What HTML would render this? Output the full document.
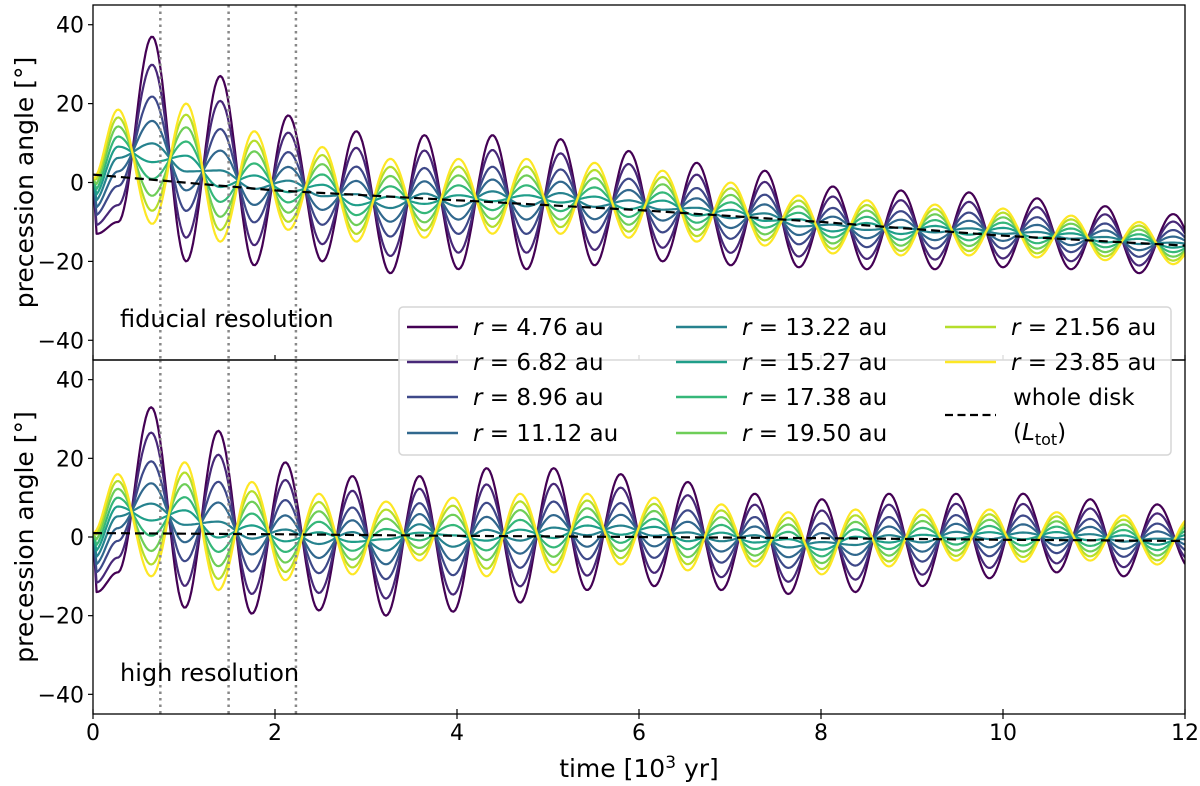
<!DOCTYPE html>
<html><head><meta charset="utf-8"><style>
html,body{margin:0;padding:0;background:#fff;}
svg{display:block;font-family:"DejaVu Sans","Liberation Sans",sans-serif;}
</style></head><body>
<svg id="chart" width="1200" height="786" viewBox="0 0 1200 786" xmlns="http://www.w3.org/2000/svg"></svg>
<script>
// ---- data ----
const radii = ["4.76","6.82","8.96","11.12","13.22","15.27","17.38","19.50","21.56","23.85"];
const colors = ["#440154","#482878","#3e4989","#31688e","#26828e","#1f9e89","#35b779","#6ece58","#b5de2b","#fde725"];
const mixWeights = [0,0.15,0.32,0.45,0.57,0.67,0.76,0.85,0.93,1];
const xTicks = [0,2,4,6,8,10,12];
const yTicks = [40,20,0,-20,-40];
const trendT = [0,2,4,6,8,10,12];
const topTrend = [2,-2,-4.5,-7,-10,-13.5,-16];
const botTrend = [1,0.7,0.3,0,-0.3,-0.7,-1];
const topPurplePeaks = [37,27,17,13,12,12,11,8,5,3,-1,-2,-2.5,-4,-6,-8];
const topPurpleTroughs = [-10,-20,-21,-20,-23,-22,-22,-21,-20,-21,-21.5,-22,-22,-21.5,-22,-23,-23];
const topYellowPeaks = [18.5,20,13,9,6,6,6,5,3,0,-3.3,-4.5,-5.6,-6.6,-8.4,-10,-11];
const topYellowTroughs = [-10.5,-15,-12,-15,-14,-13,-13,-14,-15,-16,-18,-18.5,-18.5,-19,-19.7,-20.7];
const botPurplePeaks = [33,27,19,15.5,15.5,17.5,17.5,16,14,11,9.6,11,11,11,9.6,8.3];
const botPurpleTroughs = [-9,-18,-19.5,-18.7,-20,-19,-16.7,-13.5,-12.5,-13.5,-14.5,-14,-12.5,-10.5,-9,-10,-8];
const botYellowPeaks = [16,19,14,11,9,10,11,11,10,8.3,6.3,7,7,7,6.3,5.5,5];
const botYellowTroughs = [-10,-13.5,-11,-9.5,-6,-10,-9,-7,-8.5,-7.5,-9.5,-7.5,-6,-6.3,-6,-7];
const topPhase = [0.65,0.748];
const botPhase = [0.64,0.737];
const guideTimes = [0.74,1.49,2.23];

// ---- layout ----
const NS="http://www.w3.org/2000/svg";
const svg=document.getElementById('chart');
const X0=93,X1=1185;
const panels=[{top:5,bot:360,name:'top'},{top:360,bot:714,name:'bottom'}];
function xs(t){return X0+(t/12)*(X1-X0);}
function ysF(p){return v=>p.top+(45-v)/90*(p.bot-p.top);}
function el(tag,attrs,parent){const e=document.createElementNS(NS,tag);for(const k in attrs)e.setAttribute(k,attrs[k]);(parent||svg).appendChild(e);return e;}

// values A at t0+P*n, values B at t0+P*(n-0.5)
function buildExtrema(t0,P,A,B,startVal){
  const pts=[[0,startVal]];
  const n=Math.max(A.length,B.length);
  for(let i=0;i<n;i++){
    if(i<B.length)pts.push([t0+P*(i-0.5),B[i]]);
    if(i<A.length)pts.push([t0+P*i,A[i]]);
  }
  return pts.filter(p=>p[0]>=0).sort((a,b)=>a[0]-b[0]);
}
function evalExt(pts,t){
  if(t<=pts[0][0])return pts[0][1];
  for(let i=1;i<pts.length;i++){
    if(t<=pts[i][0]){const a=pts[i-1],b=pts[i];const u=(t-a[0])/(b[0]-a[0]);const s=(1-Math.cos(Math.PI*u))/2;return a[1]+(b[1]-a[1])*s;}
  }
  return pts[pts.length-1][1];
}
function evalTrend(arr,t){for(let i=1;i<trendT.length;i++){if(t<=trendT[i]){const u=(t-trendT[i-1])/(trendT[i]-trendT[i-1]);return arr[i-1]+(arr[i]-arr[i-1])*u;}}return arr[arr.length-1];}

function drawPanel(p,idx){
  const ys=ysF(p);
  const g=el('g',{});
  
  
  const clipId='clip'+idx;
  const cp=el('clipPath',{id:clipId},g);el('rect',{x:X0,y:p.top,width:X1-X0,height:p.bot-p.top},cp);
  const data=idx===0?{ph:topPhase,pp:topPurplePeaks,pt:topPurpleTroughs,yp:topYellowPeaks,yt:topYellowTroughs,tr:topTrend,ps:1}:
                     {ph:botPhase,pp:botPurplePeaks,pt:botPurpleTroughs,yp:botYellowPeaks,yt:botYellowTroughs,tr:botTrend,ps:1};
  const purple=buildExtrema(data.ph[0],data.ph[1],data.pp,data.pt,data.ps);
  purple.splice(1,0,[0.04,idx===0?-13:-14]);
  const yellow=buildExtrema(data.ph[0],data.ph[1],data.yt,data.yp,data.ps);
  const lg=el('g',{'clip-path':`url(#${clipId})`},g);
  for(let k=0;k<radii.length;k++){
    const f=mixWeights[k];let d='';
    for(let t=0;t<=12.001;t+=0.02){const v=(1-f)*evalExt(purple,t)+f*evalExt(yellow,t);d+=(t===0?'M':'L')+xs(t).toFixed(1)+','+ys(v).toFixed(1);}
    const pth=el('path',{d,fill:'none',stroke:colors[k],'stroke-width':2.2,'stroke-linejoin':'round'},lg);
    
    
  }
  let d='';
  for(let t=0;t<=12.001;t+=0.1){d+=(t===0?'M':'L')+xs(t).toFixed(1)+','+ys(evalTrend(data.tr,t)).toFixed(1);}
  const tl=el('path',{d,fill:'none',stroke:'#000','stroke-width':2.2,'stroke-dasharray':'9,5'},lg);
  
  
  guideTimes.forEach(t=>{const l=el('line',{x1:xs(t),x2:xs(t),y1:p.top,y2:p.bot,stroke:'#888','stroke-width':2.5,'stroke-dasharray':'2.5,4'},g);
    
    });
  const fr=el('rect',{x:X0,y:p.top,width:X1-X0,height:p.bot-p.top,fill:'none',stroke:'#000','stroke-width':1.3},g);
  
  
  yTicks.forEach(v=>{el('line',{x1:X0-5,x2:X0,y1:ys(v),y2:ys(v),stroke:'#000','stroke-width':1.2},g);
    const tx=el('text',{x:X0-9,y:ys(v)+8,'text-anchor':'end','font-size':22,fill:'#000'},g);tx.textContent=v<0?'\u2212'+(-v):String(v);
    
    });
  xTicks.forEach(t=>{el('line',{x1:xs(t),x2:xs(t),y1:p.bot,y2:p.bot-5,stroke:'#000','stroke-width':1.2},g);});
  const yl=el('text',{transform:`translate(33,${(p.top+p.bot)/2}) rotate(-90)`,'text-anchor':'middle','font-size':25,fill:'#000'},g);
  yl.textContent='precession angle [°]';
  
  
  const lab=el('text',{x:120,y:idx===0?327:681,'font-size':24,fill:'#000'},g);
  lab.textContent=idx===0?'fiducial resolution':'high resolution';
  
  
}
panels.forEach(drawPanel);
xTicks.forEach(t=>{el('line',{x1:xs(t),x2:xs(t),y1:714,y2:719,stroke:'#000','stroke-width':1.2});
  const tx=el('text',{x:xs(t),y:740,'text-anchor':'middle','font-size':22,fill:'#000'});tx.textContent=String(t);
  
  });
const xl=el('text',{x:639,y:777,'text-anchor':'middle','font-size':25,fill:'#000'});
xl.innerHTML='time [10<tspan dy="-9" font-size="17">3</tspan><tspan dy="9"> yr]</tspan>';



// legend
const lgd=el('g',{});


el('rect',{x:399,y:307,width:772,height:148,rx:4,fill:'rgba(255,255,255,0.85)',stroke:'#d6d6d6','stroke-width':1.5},lgd);
const colX=[407,676,945],rowY=[327,362,397,433];
for(let k=0;k<radii.length;k++){
  const c=Math.floor(k/4),r=k%4;
  const e=el('g',{},lgd);
  
  
  el('line',{x1:colX[c],x2:colX[c]+51,y1:rowY[r],y2:rowY[r],stroke:colors[k],'stroke-width':2.5},e);
  const t=el('text',{x:colX[c]+66,y:rowY[r]+8,'font-size':23,fill:'#000'},e);
  t.innerHTML='<tspan font-style="italic">r</tspan> = '+radii[k]+' au';
}
const we=el('g',{},lgd);


el('line',{x1:945,x2:996,y1:415,y2:415,stroke:'#000','stroke-width':2.2,'stroke-dasharray':'8,4.5'},we);
const w1=el('text',{x:1013,y:405,'font-size':23,fill:'#000'},we);w1.textContent='whole disk';
const w2=el('text',{x:1013,y:440,'font-size':23,fill:'#000'},we);
w2.innerHTML='(<tspan font-style="italic">L</tspan><tspan font-size="16" dy="5">tot</tspan><tspan dy="-5">)</tspan>';
</script>
</body></html>
